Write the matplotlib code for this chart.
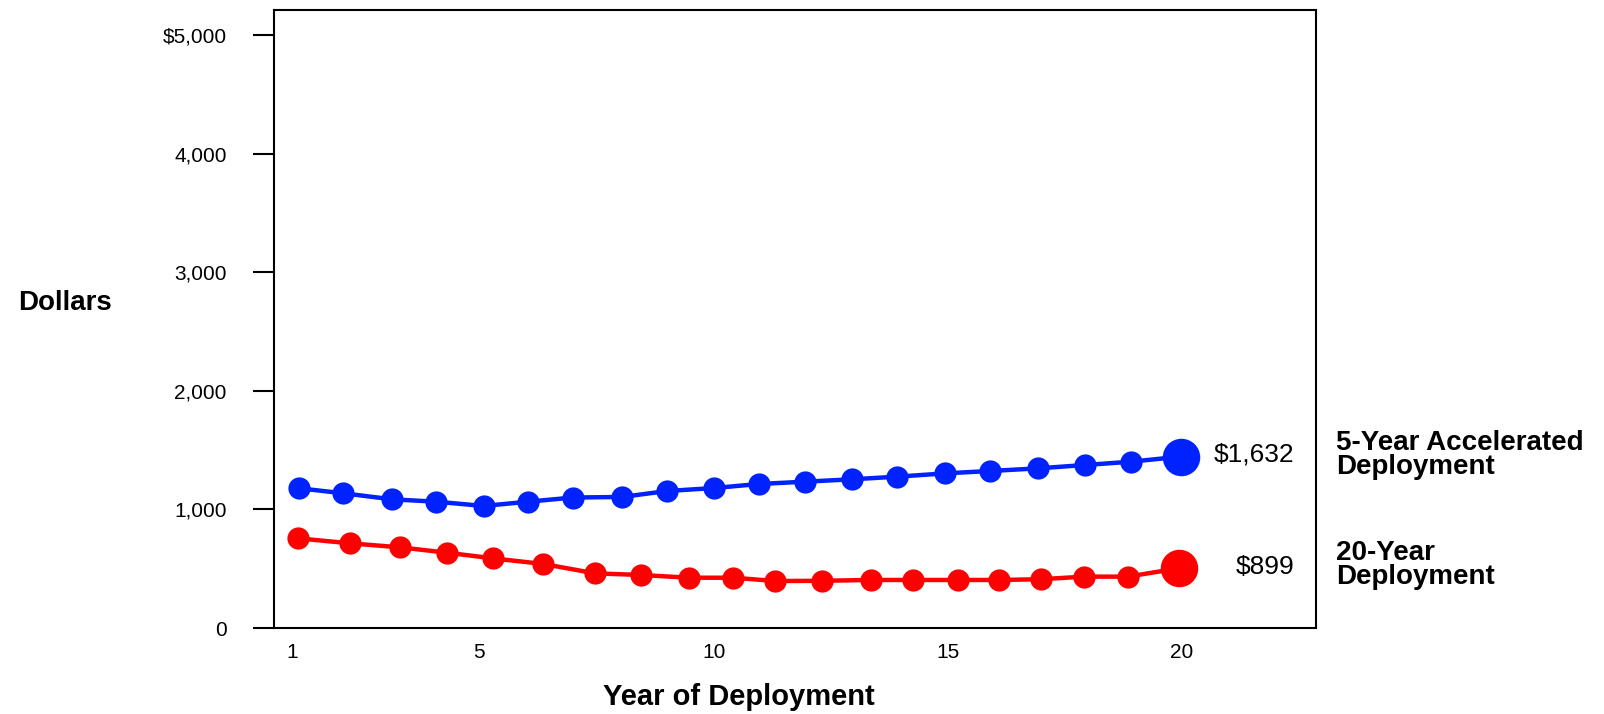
import matplotlib
matplotlib.use("Agg")
import matplotlib.pyplot as plt

plt.rcParams["font.family"] = ["Liberation Sans", "DejaVu Sans"]

# Data
blue_years = [1.15, 2.09, 3.14, 4.08, 5.09, 6.04, 6.99, 8.05, 9.0, 10.0,
              10.96, 11.96, 12.96, 13.92, 14.95, 15.91, 16.92, 17.92, 18.9, 19.97]
blue_vals = [1178, 1136, 1085, 1065, 1029, 1065, 1100, 1105, 1155, 1180,
             1214, 1234, 1254, 1276, 1304, 1324, 1346, 1374, 1402, 1445]

red_years = [1.13, 2.24, 3.31, 4.31, 5.29, 6.36, 7.47, 8.44, 9.48, 10.42,
             11.32, 12.32, 13.35, 14.25, 15.21, 16.09, 16.98, 17.90, 18.84, 19.93]
red_vals = [756, 714, 680, 635, 587, 540, 461, 447, 424, 424,
            396, 398, 405, 405, 405, 405, 411, 433, 433, 503]

x_ticks = [1, 5, 10, 15, 20]
y_ticks = [0, 1000, 2000, 3000, 4000, 5000]
y_ticklabels = ["0", "1,000", "2,000", "3,000", "4,000", "$5,000"]

blue_end_label = "$1,632"
red_end_label = "$899"
blue_name = "5-Year Accelerated\nDeployment"
red_name = "20-Year\nDeployment"

W, H = 1604, 714
fig = plt.figure(figsize=(W / 100, H / 100), dpi=100)
ax = fig.add_axes([274 / W, 1 - 628 / H, (1316 - 274) / W, (628 - 10) / H])

blue = "#0022ff"
red = "#ff0000"

# series lines + markers (last point drawn bigger)
ax.plot(blue_years, blue_vals, color=blue, lw=3.2, marker="o", ms=16,
        mew=0, markevery=slice(0, len(blue_years) - 1))
ax.plot(blue_years[-1], blue_vals[-1], "o", color=blue, ms=27, mew=0)

ax.plot(red_years, red_vals, color=red, lw=3.2, marker="o", ms=16,
        mew=0, markevery=slice(0, len(red_years) - 1))
ax.plot(red_years[-1], red_vals[-1], "o", color=red, ms=27, mew=0)

ax.set_xlim(0.615, 22.86)
ax.set_ylim(0, 5211)

ax.set_xticks(x_ticks)
ax.set_xticklabels([str(v) for v in x_ticks])
ax.set_yticks(y_ticks)
ax.set_yticklabels(y_ticklabels)

ax.tick_params(axis="y", direction="out", length=15, width=1.5,
               pad=19, labelsize=15)
ax.tick_params(axis="x", length=0, pad=11, labelsize=15)

for s in ax.spines.values():
    s.set_linewidth(1.5)

# end value labels
fig.text(1294 / W, 1 - 455 / H, blue_end_label, ha="right", va="center",
         fontsize=19)
fig.text(1294 / W, 1 - 567 / H, red_end_label, ha="right", va="center",
         fontsize=19)

# series names to the right
fig.text(1336 / W, 1 - 455 / H, blue_name, ha="left", va="center",
         fontsize=20, fontweight="bold", linespacing=0.92)
fig.text(1336 / W, 1 - 565 / H, red_name, ha="left", va="center",
         fontsize=20, fontweight="bold", linespacing=0.92)

# axis titles
fig.text(18 / W, 1 - 303 / H, "Dollars", ha="left", va="center",
         fontsize=20, fontweight="bold")
fig.text(603 / W, 1 - 697 / H, "Year of Deployment", ha="left", va="center",
         fontsize=21, fontweight="bold")

plt.savefig("out.png", dpi=100)
